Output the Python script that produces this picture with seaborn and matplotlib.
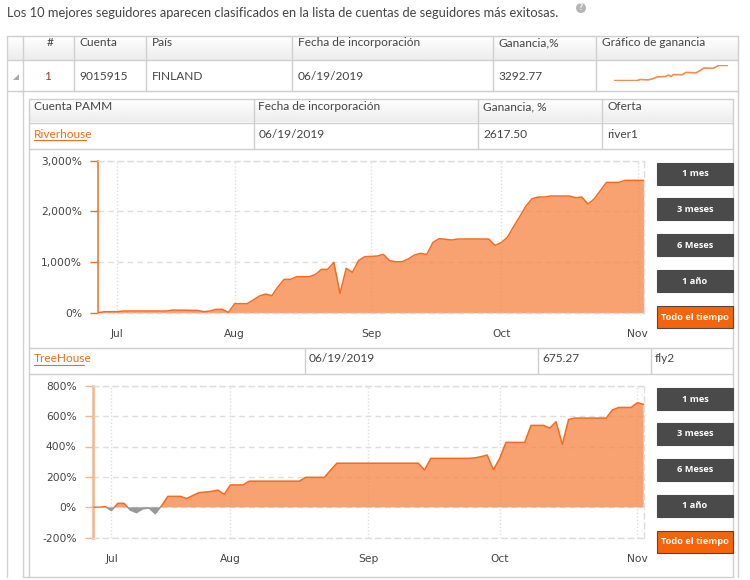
import numpy as np
import pandas as pd
import matplotlib
matplotlib.use('Agg')
import matplotlib.pyplot as plt
from matplotlib.patches import Rectangle, Circle, Polygon
import seaborn as sns

# values, one per trading session
river_gain = [0, 20, 20, 20, 33, 33, 33, 33, 33, 33, 33, 33, 52, 50, 50, 46, 46, 20, 33, 66,
              66, 7, 178, 178, 178, 250, 329, 368, 335, 513, 658, 658, 710, 710, 710, 750, 855, 855, 993, 382,
              875, 796, 1030, 1105, 1112, 1118, 1151, 1026, 1006, 1006, 1059, 1138, 1171, 1151, 1388, 1460, 1450, 1434, 1454, 1454,
              1454, 1454, 1454, 1454, 1329, 1382, 1487, 1697, 1895, 2105, 2250, 2283, 2283, 2303, 2303, 2303, 2303, 2270, 2283, 2145,
              2243, 2408, 2572, 2572, 2572, 2612, 2612, 2612, 2612]
tree_gain = [0, 0, 5, -22, 26, 26, -18, -35, -10, -5, -42, 10, 72, 72, 72, 58, 78, 97, 100, 105,
             113, 85, 147, 147, 147, 172, 172, 172, 172, 172, 172, 172, 172, 172, 197, 197, 197, 197, 245, 290,
             290, 290, 290, 290, 290, 290, 290, 290, 290, 290, 290, 290, 290, 245, 322, 322, 322, 322, 322, 322,
             322, 325, 333, 344, 247, 322, 427, 427, 427, 427, 539, 539, 539, 521, 563, 414, 578, 587, 587, 587,
             587, 587, 587, 640, 657, 657, 657, 688, 677]
month_labels = ['Jul', 'Aug', 'Sep', 'Oct', 'Nov']
month_sessions = [3, 22, 44, 65, 87]
spark_session = [0, 20, 23, 30, 34, 38, 45, 48, 50, 52, 60, 63, 72, 75, 79, 87, 92, 100]
spark_gain = [0, 0, 3, 2, 5, 10, 11, 15, 11, 16, 16, 22, 21, 26, 34, 33, 41, 41]

river_ticks = [0, 1000, 2000, 3000]
river_tick_labels = ['0%', '1,000%', '2,000%', '3,000%']
tree_ticks = [-200, 0, 200, 400, 600, 800]
tree_tick_labels = ['-200%', '0%', '200%', '400%', '600%', '800%']
range_buttons = ['1 mes', '3 meses', '6 Meses', '1 año', 'Todo el tiempo']

ORANGE = '#F26C21'
LINE_GREY = '#CFCFCF'
TEXT = '#444444'

sns.set_theme(style='white')
plt.rcParams['font.family'] = ['Lato', 'DejaVu Sans']

fig = plt.figure(figsize=(7.5, 5.8), dpi=100, facecolor='white')


def px_axes(left, top, right, bottom):
    return fig.add_axes([left / 750, 1 - bottom / 580, (right - left) / 750, (bottom - top) / 580])


bg = fig.add_axes([0, 0, 1, 1])


def header_band(left, top, right, bottom):
    shade = np.linspace(1, 0.925, 30).reshape(-1, 1)
    bg.imshow(shade, extent=(left, right, bottom, top), cmap='gray', vmin=0, vmax=1,
              aspect='auto', zorder=0)


header_band(7, 36, 738, 60)
header_band(29, 99, 733, 122)
bg.set_xlim(0, 750)
bg.set_ylim(580, 0)
bg.axis('off')


def hline(y, x0, x1):
    bg.plot([x0, x1], [y, y], color=LINE_GREY, lw=1, zorder=1)


def vline(x, y0, y1):
    bg.plot([x, x], [y0, y1], color=LINE_GREY, lw=1, zorder=1)


# outer table
for y in [35.5, 59.5, 91]:
    hline(y, 7, 738)
vline(7, 35.5, 577)
vline(738, 35.5, 577)
for x in [22.5, 73.5, 145.5, 291.5, 492.5, 596]:
    vline(x, 35.5, 91)
vline(22.5, 91, 577)
hline(577, 22.5, 733)

# inner tables
for y in [99, 122.5, 148.5]:
    hline(y, 29, 733)
for x in [253.5, 477.5, 602]:
    vline(x, 99, 148.5)
vline(29, 99, 577)
vline(733, 99, 577)
for y in [347.5, 373.5]:
    hline(y, 29, 733)
for x in [304.5, 537.5, 650.5]:
    vline(x, 347.5, 373.5)


def cell(x, y, s, color=TEXT, size=8.6, **kw):
    return bg.text(x, y, s, color=color, fontsize=size, va='center', **kw)


cell(7, 13, 'Los 10 mejores seguidores aparecen clasificados en la lista de cuentas de seguidores más exitosas.',
     size=9.3)
bg.add_patch(Circle((581, 8), 5, color='#B5B5B5', lw=0))
cell(581, 8, '?', color='white', size=6.5, ha='center', fontweight='bold')

for x, s in [(79, 'Cuenta'), (152, 'País'), (297.5, 'Fecha de incorporación'), (498.5, 'Ganancia,%'),
             (602, 'Gráfico de ganancia')]:
    cell(x, 43, s)
cell(50.5, 43, '#', ha='center')
cell(48, 76, '1', color='#A33A2A', ha='center')
for x, s in [(79, '9015915'), (152, 'FINLAND'), (297.5, '06/19/2019'), (498.5, '3292.77')]:
    cell(x, 76, s)
bg.add_patch(Polygon([[13, 80], [19, 80], [19, 74]], color='#AAAAAA', lw=0))

for x, s in [(33.5, 'Cuenta PAMM'), (258.5, 'Fecha de incorporación'), (483, 'Ganancia, %'), (607.5, 'Oferta')]:
    cell(x, 107, s)
cell(33.5, 134, 'Riverhouse', color=ORANGE)
bg.plot([33.5, 86], [139.5, 139.5], color=ORANGE, lw=0.8)
for x, s in [(258.5, '06/19/2019'), (483, '2617.50'), (607.5, 'river1')]:
    cell(x, 134, s)
cell(33.5, 359, 'TreeHouse', color=ORANGE)
bg.plot([33.5, 83.5], [364.5, 364.5], color=ORANGE, lw=0.8)
for x, s in [(309, '06/19/2019'), (542.5, '675.27'), (655, 'fly2')]:
    cell(x, 359, s)


def draw_buttons(tops):
    for top, label in zip(tops, range_buttons):
        active = label == range_buttons[-1]
        bg.add_patch(Rectangle((657, top), 76, 22, facecolor='#F5640A' if active else '#4A4A4A',
                               edgecolor='#4A4A4A', lw=0.8, zorder=2))
        bg.text(695, top + 11, label, color='white', fontsize=6.7, fontweight='bold', ha='center',
                va='center', family=['Open Sans', 'DejaVu Sans'], zorder=3)


draw_buttons([163, 198, 234, 270, 306])
draw_buttons([388, 423, 459, 495, 531])


def gain_chart(ax, values, yticks, ylabels, axis_color, axis_width):
    data = pd.DataFrame({'session': np.arange(len(values)), 'gain': values})
    ax.patch.set_alpha(0)
    ax.set_xlim(0, len(values) - 1)
    ax.set_ylim(yticks[0], yticks[-1])
    clip_pos = Rectangle((0, 0), len(values), 1e5, transform=ax.transData)
    clip_neg = Rectangle((0, -1e5), len(values), 1e5, transform=ax.transData)

    ax.fill_between(data['session'], data['gain'], 0, where=data['gain'] >= 0, interpolate=True,
                    color='#F58B4C', alpha=0.8, lw=0, zorder=2)
    ax.fill_between(data['session'], data['gain'], 0, where=data['gain'] <= 0, interpolate=True,
                    color='#999999', lw=0, zorder=2)
    sns.lineplot(data=data, x='session', y='gain', ax=ax, color=ORANGE, lw=1.1, zorder=3)
    ax.lines[-1].set_clip_path(clip_pos)
    sns.lineplot(data=data, x='session', y='gain', ax=ax, color='#999999', lw=1.1, zorder=3)
    ax.lines[-1].set_clip_path(clip_neg)

    ax.set_xlabel('')
    ax.set_ylabel('')
    ax.set_xticks(month_sessions, month_labels, fontsize=7.7, color=TEXT, family='DejaVu Sans')
    ax.set_yticks(yticks, ylabels, fontsize=7.7, color=TEXT, family='DejaVu Sans')
    ax.tick_params(axis='x', length=0, pad=12)
    ax.tick_params(axis='y', length=5.5, width=1, color=axis_color, pad=6, left=True)
    ax.grid(axis='y', color='#DDDDDD', lw=1, ls=(0, (4, 3)), zorder=1)
    ax.grid(axis='x', color='#DDDDDD', lw=1, ls=(0, (1, 1.5)), zorder=1)
    ax.set_axisbelow(True)
    for side in ['top', 'right', 'bottom']:
        ax.spines[side].set_color('#DDDDDD')
        ax.spines[side].set_linestyle((0, (4, 3)))
        ax.spines[side].set_linewidth(1)
    ax.spines['left'].set_color(axis_color)
    ax.spines['left'].set_linewidth(axis_width)


gain_chart(px_axes(98.3, 160.7, 643.7, 312.7), river_gain, river_ticks, river_tick_labels, ORANGE, 1.1)
gain_chart(px_axes(92.7, 385.7, 643.7, 537.7), tree_gain, tree_ticks, tree_tick_labels, '#F7B48A', 1.8)

# sparkline in the "Gráfico de ganancia" column
spark = px_axes(614, 65, 728, 81)
spark.patch.set_alpha(0)
sns.lineplot(x=spark_session, y=spark_gain, ax=spark, color='#F58B4C', lw=1.2)
spark.set_xlim(0, 100)
spark.set_ylim(-1, 42)
spark.axis('off')

fig.savefig('out.png', dpi=100)
